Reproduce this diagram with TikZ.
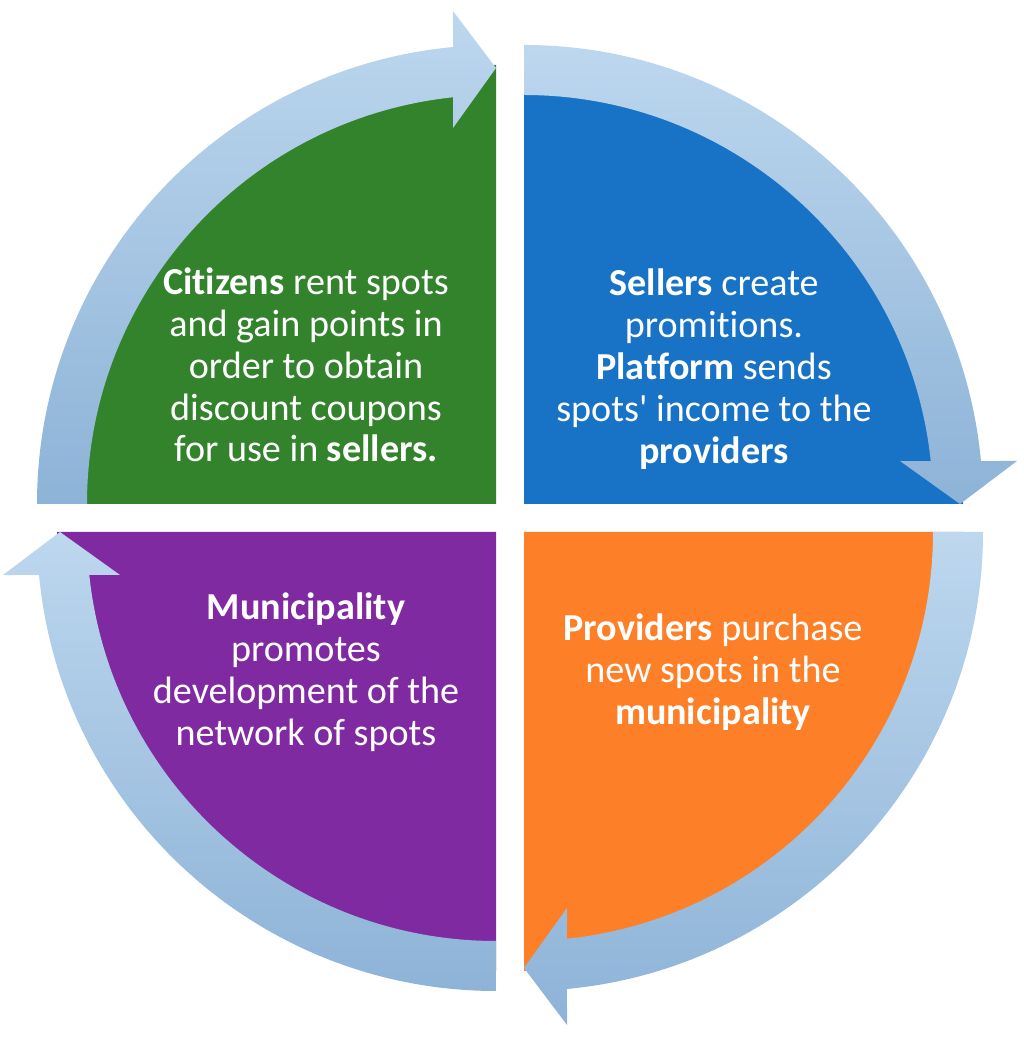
\documentclass[tikz,border=0pt]{standalone}
\usepackage{fontspec}
\setmainfont{Carlito}[Ligatures={NoCommon}]
\usetikzlibrary{calc}
\usepackage{xcolor}

\definecolor{citgreen}{RGB}{50,131,44}
\definecolor{selblue}{RGB}{24,115,199}
\definecolor{provorange}{RGB}{253,127,39}
\definecolor{munpurple}{RGB}{128,42,161}
\definecolor{bandlight}{RGB}{189,215,238}
\definecolor{banddark}{RGB}{141,179,215}

\begin{document}
\begin{tikzpicture}[x=0.02cm, y=0.02cm,
    band/.style={top color=bandlight, bottom color=banddark, draw=none},
    quadtext/.style={text=white, align=center, inner sep=0pt, font=\fontsize{21.7}{23.8}\selectfont}]
        \useasboundingbox (0,0) rectangle (1024,1038);

        % corners of the four quarters
        \coordinate (cg) at (496,534);
        \coordinate (cb) at (524,534);
        \coordinate (co) at (524,506);
        \coordinate (cp) at (496,506);

        % quarters
        \fill[citgreen] (cg) -- ++(180:439) arc[start angle=180, end angle=90, radius=439] -- cycle;
        \fill[selblue] (cb) -- ++(90:439) arc[start angle=90, end angle=0, radius=439] -- cycle;
        \fill[provorange] (co) -- ++(0:439) arc[start angle=0, end angle=-90, radius=439] -- cycle;
        \fill[munpurple] (cp) -- ++(270:439) arc[start angle=270, end angle=180, radius=439] -- cycle;

        % curved arrows round each quarter
        \foreach \c/\s in {cg/180, cb/90, co/0, cp/270} {
            \pgfmathsetmacro\e{\s-90}
            \path[band] ($(\c)+(\s:459)$) arc[start angle=\s, end angle=\e+5.37, radius=459]
                -- ($(\c)+(\e+4.99:494.9)$) -- ($(\c)+(\e:436)$) -- ($(\c)+(\e+6.52:378.5)$)
                -- ($(\c)+(\e+6.03:409)$) arc[start angle=\e+6.03, end angle=\s, radius=409] -- cycle;
        }

        \node[quadtext] (citizens) at (306,673) {\textbf{Citizens} rent spots\\and gain points in\\order to obtain\\discount coupons\\for use in \textbf{sellers.}};
        \node[quadtext] (sellers) at (714,669) {\textbf{Sellers} create\\promitions.\\\textbf{Platform} sends\\spots\textquotesingle{} income to the\\\textbf{providers}};
        \node[quadtext] (providers) at (713,366) {\textbf{Providers} purchase\\new spots in the\\\textbf{municipality}};
        \node[quadtext] (municipality) at (306,366) {\textbf{Municipality}\\promotes\\development of the\\network of spots};
    \end{tikzpicture}
\end{document}
